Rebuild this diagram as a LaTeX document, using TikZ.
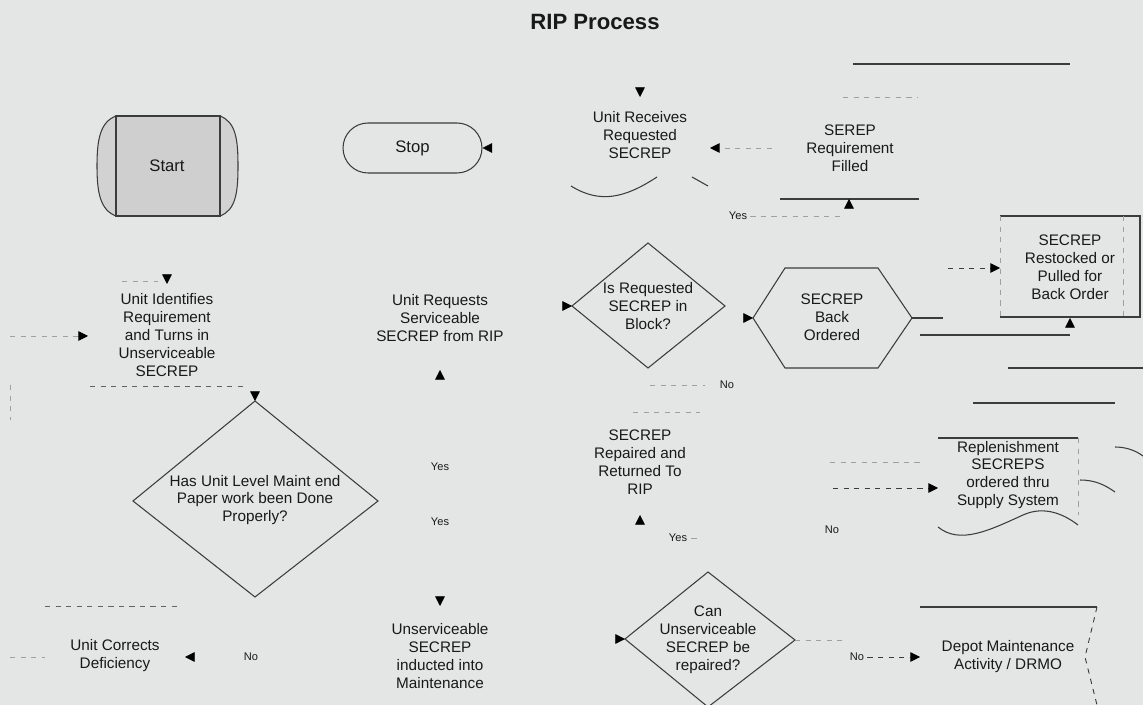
\documentclass[tikz,border=0pt]{standalone}
\usepackage{fontspec}
\setmainfont{Liberation Sans}
\usetikzlibrary{arrows.meta}
\definecolor{paper}{HTML}{E4E5E5}
\definecolor{ink}{HTML}{3C3C3C}
\definecolor{pale}{HTML}{A0A0A0}
\definecolor{startgray}{HTML}{CFCFCF}

\begin{document}
\begin{tikzpicture}[x=0.02cm, y=-0.02cm,
  every node/.style={font=\fontsize{8.7}{10.2}\selectfont, align=center, inner sep=0pt, text=black!90},
  ln/.style={draw=ink, line width=0.6pt},
  faint/.style={draw=pale, dashed, line width=0.5pt},
  tip/.style={-{Triangle[length=5.5pt,width=5.5pt,color=black]}},
  head/.style={tip, draw=paper, line width=0.3pt},
  lbl/.style={font=\fontsize{6.3}{7}\selectfont}]
  \clip (0,0) rectangle (1143,705);
  \fill[paper] (0,0) rectangle (1143,705);

  % title
  \node[font=\fontsize{12.6}{14}\selectfont\bfseries] (title) at (595,22) {RIP Process};

  % start / stop
  \fill[startgray!85!paper] (116,116) .. controls (100,122) and (97,140) .. (97,166)
     .. controls (97,192) and (100,210) .. (116,216) -- (220,216)
     .. controls (236,210) and (238,192) .. (238,166)
     .. controls (238,140) and (236,122) .. (220,116) -- cycle;
  \fill[startgray] (116,116) rectangle (220,216);
  \draw[ln] (116,116) .. controls (100,122) and (97,140) .. (97,166)
     .. controls (97,192) and (100,210) .. (116,216);
  \draw[ln] (220,116) .. controls (236,122) and (238,140) .. (238,166)
     .. controls (238,192) and (236,210) .. (220,216);
  \draw[ln] (116,116) rectangle (220,216);
  \node (start) at (167,166) {\fontsize{9.5}{11}\selectfont Start};

  \node[ln, rounded corners=0.5cm, minimum width=2.78cm, minimum height=1cm,
        font=\fontsize{9.5}{11}\selectfont] (stop) at (412.5,148) {Stop};

  % top row
  \node (recv) at (640,135) {Unit Receives\\Requested\\SECREP};
  \node (filled) at (850,148) {SEREP\\Requirement\\Filled};
  \coordinate (recvin) at (640,97);
  \coordinate (recvright) at (710,148);
  \draw[head] (640,84) -- (recvin);
  \draw[head] (497,148) -- (stop.east);
  \draw[faint, tip] (772,148) -- (recvright);
  \draw[ln] (571,186) .. controls (600,204) and (625,198) .. (657,177);
  \draw[ln] (692,177) -- (708,186);
  \draw[ln] (853,64) -- (1070,64);
  \draw[faint] (843,97) -- (918,97);
  \coordinate (filledin) at (849,199);
  \draw[ln] (780,199) -- (919,199);
  \node[lbl] (yes1) at (738,216) {Yes};
  \draw[faint] (yes1.east) ++(3,0) -- (840,216);
  \draw[head] (849,214) -- (filledin);

  % second row
  \node (ident) at (167,335) {Unit Identifies\\Requirement\\and Turns in\\Unserviceable\\SECREP};
  \coordinate (identin) at (167,284);
  \draw[faint] (122,281) -- (158,281);
  \draw[head] (167,270) -- (identin);
  \draw[faint, tip] (10,336) -- (88,336);
  \draw[faint, draw=ink!80] (90,386) -- (245,386);
  \draw[faint] (10,385) -- (10,420);

  \node (req) at (440,318) {Unit Requests\\Serviceable\\SECREP from RIP};
  \coordinate (reqin) at (440,370);
  \draw[head] (440,384) -- (reqin);

  \coordinate (q1t) at (648,243);
  \coordinate (q1l) at (572,306);
  \coordinate (q1r) at (725,306);
  \coordinate (q1b) at (648,368);
  \draw[ln] (q1t) -- (q1r) -- (q1b) -- (q1l) -- cycle;
  \node (q1) at (648,306) {Is Requested\\SECREP in\\Block?};
  \draw[head] (558,306) -- (q1l);
  \node[lbl] (no1) at (727,385) {No};
  \draw[faint] (650,385) -- (705,385);
  \draw[faint] (633,412) -- (700,412);

  \coordinate (backl) at (753,318);
  \coordinate (backr) at (912,318);
  \draw[ln] (backl) -- (785,268) -- (878,268) -- (backr) -- (878,368) -- (785,368) -- cycle;
  \node (back) at (832,317) {SECREP\\Back\\Ordered};
  \draw[head] (740,318) -- (backl);
  \draw[ln] (backr) -- (943,318);

  \node (restock) at (1070,267) {SECREP\\Restocked or\\Pulled for\\Back Order};
  \draw[ln] (1000,216) -- (1140,216) -- (1140,317) -- (1000,317);
  \draw[faint] (1000,216) -- (1000,317);
  \draw[faint] (1123,216) -- (1123,317);
  \coordinate (restockl) at (1000,268);
  \coordinate (restockb) at (1070,318);
  \draw[faint, draw=ink, tip] (948,268) -- (restockl);
  \draw[ln] (920,335) -- (1070,335);
  \draw[head] (1070,332) -- (restockb);
  \draw[ln] (1008,368) -- (1143,368);

  % third row
  \coordinate (q2t) at (255,401);
  \draw[ln] (q2t) -- (378,501) -- (255,597) -- (133,501) -- cycle;
  \node (q2) at (255,500) {Has Unit Level Maint end\\Paper work been Done\\Properly?};
  \draw[head] (255,388) -- (q2t);
  \node[lbl] (yes2) at (440,467) {Yes};
  \node[lbl] (yes3) at (440,522) {Yes};

  \node (repaired) at (640,462) {SECREP\\Repaired and\\Returned To\\RIP};
  \coordinate (repin) at (640,515);
  \draw[head] (640,528) -- (repin);
  \node[lbl] (yes4) at (678,538) {Yes};
  \draw[faint] (yes4.east) ++(4,0) -- +(6,0);

  \node (replen) at (1008,475) {Replenishment\\SECREPS\\ordered thru\\Supply System};
  \draw[ln] (938,438) -- (1078,438);
  \draw[faint] (1078,438) -- (1078,515);
  \draw[ln] (938,527) .. controls (960,545) and (990,530) .. (1023,515)
     .. controls (1045,505) and (1065,515) .. (1078,525);
  \draw[ln] (973,403) -- (1115,403);
  \draw[ln] (1080,480) .. controls (1095,480) and (1105,485) .. (1115,492);
  \draw[ln] (1115,447) .. controls (1125,447) and (1135,450) .. (1143,456);
  \coordinate (replenl) at (938,488);
  \draw[faint, draw=ink, tip] (833,488) -- (replenl);
  \draw[faint] (830,462) -- (920,462);
  \node[lbl] (no2) at (832,530) {No};

  % bottom row
  \node (correct) at (115,656) {Unit Corrects\\Deficiency};
  \coordinate (correctin) at (185,657);
  \draw[head] (199,657) -- (correctin);
  \node[lbl] (no3) at (251,657) {No};
  \draw[faint] (10,657) -- (45,657);
  \draw[faint, draw=ink!80] (45,606) -- (182,606);

  \node (induct) at (440,656) {Unserviceable\\SECREP\\inducted into\\Maintenance};
  \coordinate (inductin) at (440,606);
  \draw[head] (440,592) -- (inductin);

  \coordinate (q3t) at (708,572);
  \coordinate (q3l) at (625,639);
  \coordinate (q3r) at (795,640);
  \draw[ln] (q3t) -- (q3r) -- (708,707) -- (q3l) -- cycle;
  \node (q3) at (708,640) {Can\\Unserviceable\\SECREP be\\repaired?};
  \draw[head] (611,639) -- (q3l);
  \draw[faint] (q3r) -- (843,640);
  \node[lbl] (no4) at (857,657) {No};
  \coordinate (depotl) at (920,657);
  \draw[faint, draw=ink, tip] (no4.east) ++(3,0) -- (depotl);

  \node (depot) at (1008,657) {Depot Maintenance\\Activity / DRMO};
  \draw[ln] (920,607) -- (1097,607);
  \draw[faint, draw=ink] (1097,607) -- (1085,657) -- (1097,705);
\end{tikzpicture}
\end{document}
